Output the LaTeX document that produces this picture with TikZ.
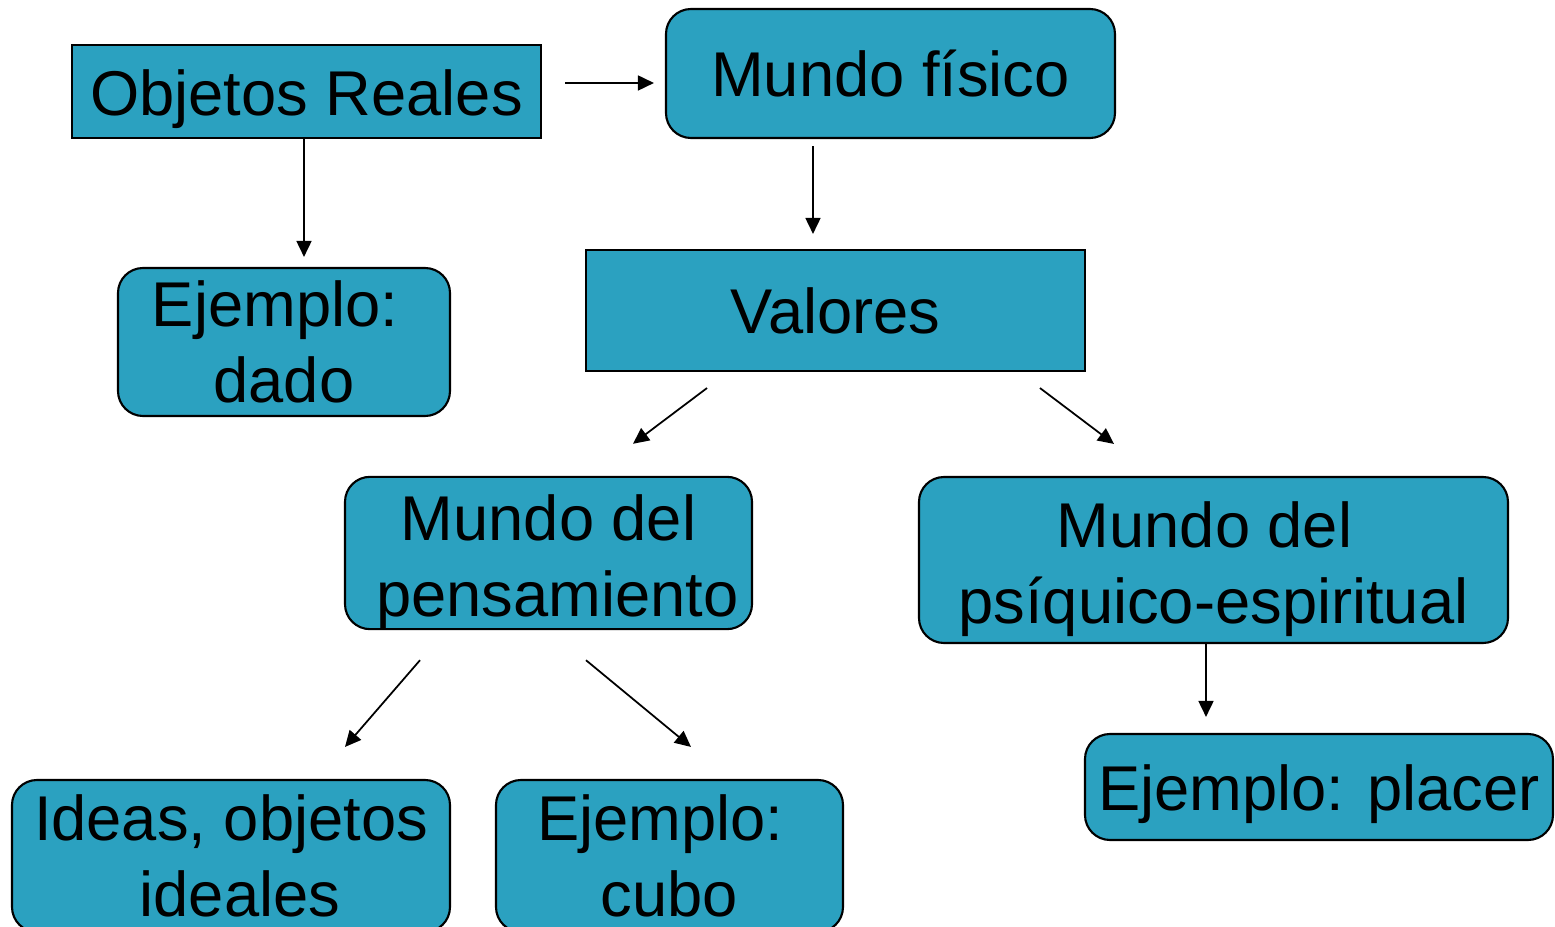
\documentclass[tikz,border=0pt]{standalone}
\usepackage{fontspec}
\setmainfont{Liberation Sans}
\usetikzlibrary{arrows.meta}
\definecolor{cajaazul}{RGB}{43,161,192}
\tikzset{
	caja/.style={draw=black,fill=cajaazul,line width=0.6pt,align=center,inner sep=0pt,
		font=\fontsize{18}{21.6}\selectfont},
	cajar/.style={caja,rounded corners=0.25cm},
	flecha/.style={-{Triangle[length=1.6mm,width=1.5mm]},line width=0.5pt}
}

\begin{document}
\begin{tikzpicture}
			\useasboundingbox (0,0) rectangle (15.55,-9.27);
			\node[caja,minimum width=4.69cm,minimum height=0.93cm,text height=17.6pt] (obj) at (3.065,-0.915) {Objetos Reales};
			\node[cajar,minimum width=4.49cm,minimum height=1.29cm] (fis) at (8.905,-0.735) {Mundo físico};
			\node[cajar,minimum width=3.32cm,minimum height=1.48cm] (dado) at (2.84,-3.42) {Ejemplo:\hspace*{0.18cm}\\dado};
			\node[caja,minimum width=4.99cm,minimum height=1.21cm] (val) at (8.355,-3.105) {Valores};
			\node[cajar,minimum width=4.07cm,minimum height=1.52cm,text height=39.6pt] (pens) at (5.485,-5.53) {Mundo del\\\hspace*{0.18cm}pensamiento};
			\node[cajar,minimum width=5.89cm,minimum height=1.66cm,text height=39.6pt] (psi) at (12.135,-5.60) {Mundo del\hspace*{0.18cm}\\psíquico-espiritual};
			\node[cajar,minimum width=4.68cm,minimum height=1.06cm,text height=17pt] (placer) at (13.19,-7.87) {Ejemplo: placer};
			\node[cajar,minimum width=4.38cm,minimum height=1.52cm] (ideas) at (2.31,-8.56) {Ideas, objetos\\\hspace*{0.18cm}ideales};
			\node[cajar,minimum width=3.47cm,minimum height=1.52cm] (cubo) at (6.695,-8.56) {Ejemplo:\hspace*{0.18cm}\\cubo};
			\draw[flecha] ([shift={(0.23,0.085)}]obj.east) -- ([shift={(-0.11,-0.095)}]fis.west);
			\draw[flecha] ([shift={(-0.025,0)}]obj.south) -- ([shift={(0.20,0.10)}]dado.north);
			\draw[flecha] ([shift={(-0.775,-0.07)}]fis.south) -- ([shift={(-0.225,0.15)}]val.north);
			\draw[flecha] ([shift={(-1.285,-0.16)}]val.south) -- ([shift={(0.845,0.32)}]pens.north);
			\draw[flecha] ([shift={(2.045,-0.16)}]val.south) -- ([shift={(-0.995,0.32)}]psi.north);
			\draw[flecha] ([shift={(-1.285,-0.30)}]pens.south) -- ([shift={(1.14,0.32)}]ideas.north);
			\draw[flecha] ([shift={(0.375,-0.30)}]pens.south) -- ([shift={(0.215,0.32)}]cubo.north);
			\draw[flecha] ([shift={(-0.075,0)}]psi.south) -- ([shift={(-1.13,0.16)}]placer.north);
			\end{tikzpicture}
\end{document}
